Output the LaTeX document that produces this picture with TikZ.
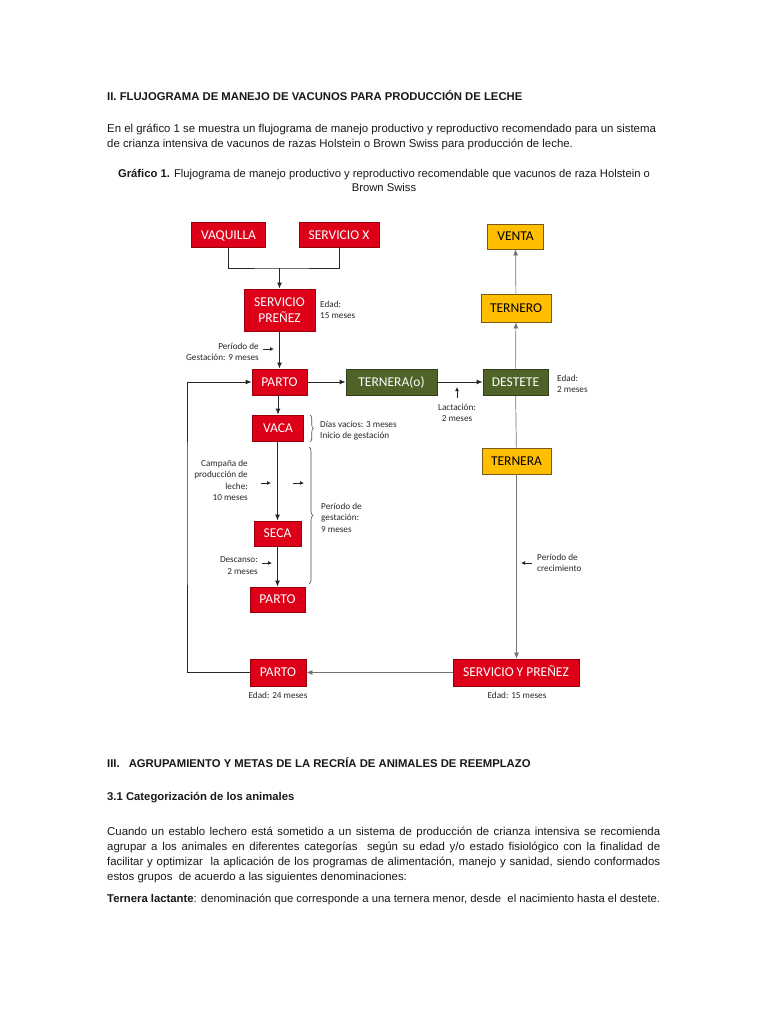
\documentclass[tikz,border=0pt]{standalone}
\usepackage{fontspec}
\setmainfont{Liberation Sans}
\newfontfamily\boxfont{Carlito}
\usetikzlibrary{arrows.meta,decorations.pathreplacing}
\definecolor{boxred}{RGB}{222,0,24}
\definecolor{redborder}{RGB}{150,0,10}
\definecolor{boxgreen}{RGB}{79,98,40}
\definecolor{greenborder}{RGB}{50,62,25}
\definecolor{boxyellow}{RGB}{255,190,0}
\definecolor{yellowborder}{RGB}{120,90,20}
\definecolor{labtext}{RGB}{40,40,40}
\tikzset{
  basebox/.style={font=\boxfont\fontsize{13.5}{16}\selectfont, inner sep=0pt, line width=0.8pt, align=center},
  onel/.style={text height=8.7pt, text depth=0pt},
  redbox/.style={basebox, draw=redborder, fill=boxred, text=white},
  greenbox/.style={basebox, draw=greenborder, fill=boxgreen, text=white},
  yellowbox/.style={basebox, draw=yellowborder, fill=boxyellow, text=black},
  conn/.style={draw=black!85, line width=0.9pt, -{Latex[length=6pt,width=5pt]}},
  plainconn/.style={draw=black!85, line width=0.9pt},
  greyconn/.style={draw=black!55, line width=0.7pt, -{Latex[length=6pt,width=5pt]}},
  smallarr/.style={draw=black!85, line width=0.8pt, -{Latex[length=4pt,width=4pt]}},
  lab/.style={font=\boxfont\fontsize{9.2}{11.5}\selectfont, text=labtext, inner sep=0pt},
  bodytext/.style={font=\fontsize{11.4}{15}\selectfont, inner sep=0pt, text=black!90},
  headtext/.style={font=\bfseries\fontsize{11.3}{15}\selectfont, inner sep=0pt, text=black!90},
  bracestyle/.style={draw=black!70, line width=0.6pt, decorate, decoration={brace, amplitude=3.5pt}}
}
\begin{document}
\begin{tikzpicture}[x=1pt,y=1pt]
\useasboundingbox[fill=white] (0,0) rectangle (768,-1024);

% ---- text above ----
\node[headtext, anchor=base west] (h2) at (107,-101) {II. FLUJOGRAMA DE MANEJO DE VACUNOS PARA PRODUCCIÓN DE LECHE};
\node[bodytext, anchor=base west, align=left] (p1) at (107,-148) {En el gráfico 1 se muestra un flujograma de manejo productivo y reproductivo recomendado para un sistema\\de crianza intensiva de vacunos de razas Holstein o Brown Swiss para producción de leche.};
\node[bodytext, anchor=base, align=center, font=\fontsize{11.25}{14}\selectfont] (cap) at (384,-192) {\textbf{Gráfico 1.} Flujograma de manejo productivo y reproductivo recomendable que vacunos de raza Holstein o\\Brown Swiss};

% ---- boxes ----
\node[redbox, onel, minimum width=74pt, minimum height=25pt] (vaq) at (228.5,-235) {VAQUILLA};
\node[redbox, onel, minimum width=80pt, minimum height=25pt] (serx) at (339,-235) {SERVICIO X};
\node[redbox, minimum width=71pt, minimum height=42pt, font=\boxfont\fontsize{13.5}{16}\selectfont] (sp) at (279.5,-310) {SERVICIO\\PREÑEZ};
\node[redbox, onel, minimum width=55pt, minimum height=26pt] (parto1) at (279.5,-382) {PARTO};
\node[greenbox, onel, minimum width=91pt, minimum height=26pt] (tern) at (391.5,-382) {TERNERA(o)};
\node[greenbox, onel, minimum width=65pt, minimum height=26pt] (dest) at (515.5,-382) {DESTETE};
\node[yellowbox, onel, minimum width=70pt, minimum height=28pt] (ternero) at (516,-308) {TERNERO};
\node[yellowbox, onel, minimum width=56pt, minimum height=25pt] (venta) at (515.5,-236.5) {VENTA};
\node[yellowbox, onel, minimum width=69pt, minimum height=26pt] (ternera) at (516.5,-461) {TERNERA};
\node[redbox, onel, minimum width=126pt, minimum height=27pt] (syp) at (516,-672.5) {SERVICIO Y PREÑEZ};
\node[redbox, onel, minimum width=56pt, minimum height=27pt] (parto2) at (278,-672.5) {PARTO};
\node[redbox, onel, minimum width=51pt, minimum height=26pt] (vaca) at (278,-428) {VACA};
\node[redbox, onel, minimum width=47pt, minimum height=25pt] (seca) at (277.5,-533.5) {SECA};
\node[redbox, onel, minimum width=55pt, minimum height=25pt] (parto3) at (277.5,-599.5) {PARTO};

% ---- connectors ----
\coordinate (join) at (279.5,-268);
\draw[plainconn] (vaq.south) |- (join) -| (serx.south);
\draw[conn] (join) -- (sp.north);
\draw[conn] (sp.south) -- (parto1.north);
\draw[conn] (parto1) -- (tern);
\draw[conn] (tern) -- (dest);
\draw[greyconn] (dest) -- (ternero);
\draw[greyconn] (ternero) -- (venta);
\draw[greyconn, -] (dest) -- (ternera);
\draw[greyconn] (ternera.south) -- (ternera.south |- syp.north);
\draw[greyconn] (syp) -- (parto2);
\coordinate (loop) at (187,-500);
\draw[conn] (parto2.west) -| (loop) |- (parto1.west);
\draw[conn] (parto1.south -| vaca.north) -- (vaca.north);
\draw[conn] (vaca.south -| seca.north) -- (seca.north);
\draw[conn] (seca.south) -- (parto3.north);

% ---- braces ----
\coordinate (b1t) at (310,-415);
\coordinate (b1b) at (310,-442);
\draw[bracestyle] (b1t) -- (b1b);
\coordinate (b2t) at (309,-447);
\coordinate (b2b) at (309,-584);
\draw[bracestyle, decoration={brace, amplitude=4pt}] (b2t) -- (b2b);

% ---- small arrows ----
\coordinate (ga1) at (263,-349); \coordinate (ga2) at (274,-349);
\draw[smallarr] (ga1) -- (ga2);
\coordinate (ca1) at (261,-483); \coordinate (ca2) at (271,-483);
\draw[smallarr] (ca1) -- (ca2);
\coordinate (cb1) at (293,-483); \coordinate (cb2) at (304,-483);
\draw[smallarr] (cb1) -- (cb2);
\coordinate (da1) at (262,-563); \coordinate (da2) at (272,-563);
\draw[smallarr] (da1) -- (da2);
\coordinate (la1) at (457,-398); \coordinate (la2) at (457,-387);
\draw[smallarr] (la1) -- (la2);
\coordinate (pc1) at (532,-563); \coordinate (pc2) at (521,-563);
\draw[smallarr] (pc1) -- (pc2);

% ---- labels (anchor base = last line) ----
\node[lab, anchor=base west, align=left] (l1) at (320,-318.5) {Edad:\\15 meses};
\node[lab, anchor=base east, align=right] (l2) at (259,-360.5) {Período de\\Gestación: 9 meses};
\node[lab, anchor=base west, align=left] (l3) at (557,-392.5) {Edad:\\2 meses};
\node[lab, anchor=base, align=center] (l4) at (457,-421.5) {Lactación:\\2 meses};
\node[lab, anchor=base west, align=left] (l5) at (320,-438.5) {Días vacíos: 3 meses\\Inicio de gestación};
\node[lab, anchor=base east, align=right] (l6) at (248,-500.5) {Campaña de\\producción de\\leche:\\10 meses};
\node[lab, anchor=base west, align=left] (l7) at (321,-532) {Período de\\gestación:\\9 meses};
\node[lab, anchor=base east, align=right] (l8) at (258,-574) {Descanso:\\2 meses};
\node[lab, anchor=base west, align=left] (l9) at (537,-571.5) {Período de\\crecimiento};
\node[lab, anchor=base] (l10) at (278,-698) {Edad: 24 meses};
\node[lab, anchor=base] (l11) at (517,-698) {Edad: 15 meses};

% ---- text below ----
\node[headtext, anchor=base west] (h3) at (107,-767) {III.\hspace{9pt}AGRUPAMIENTO Y METAS DE LA RECRÍA DE ANIMALES DE REEMPLAZO};
\node[headtext, anchor=base west] (h31) at (107,-800) {3.1 Categorización de los animales};
\node[bodytext, anchor=base west, text width=553pt, align=justify] (p2) at (107,-835) {Cuando un establo lechero está sometido a un sistema de producción de crianza intensiva se recomienda\linebreak agrupar a los animales en diferentes categorías \ según su edad y/o estado fisiológico con la finalidad de\linebreak facilitar y optimizar \ la aplicación de los programas de alimentación, manejo y sanidad, siendo conformados\linebreak estos grupos \ de acuerdo a las siguientes denominaciones:};
\node[bodytext, anchor=base west, font=\fontsize{11.3}{15}\selectfont] (p3) at (107,-902) {\textbf{Ternera lactante}: denominación que corresponde a una ternera menor, desde \ el nacimiento hasta el destete.};
\end{tikzpicture}
\end{document}
